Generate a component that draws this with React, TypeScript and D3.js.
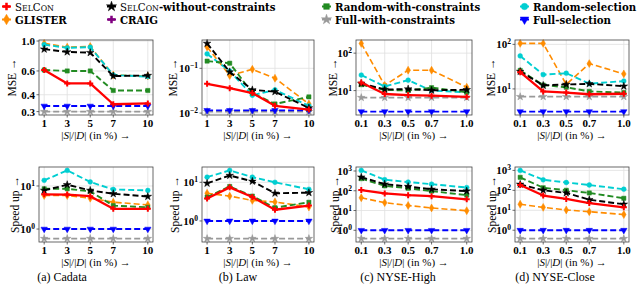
import React, { useEffect, useRef } from 'react';
import * as d3 from 'd3';

// x values
const xPercent = [1, 3, 5, 7, 10];
const xNyse = [0.1, 0.3, 0.5, 0.7, 1.0];

// series order: SelCon, SelCon-w/o, GLISTER, Random-with-constraints, Random-selection, Full-with-constraints, Full-selection
const cadataMse = [
  [0.61, 0.485, 0.485, 0.34, 0.345],
  [0.87, 0.83, 0.82, 0.55, 0.555],
  [0.96, 0.9, 0.91, 0.56, 0.55],
  [0.61, 0.6, 0.6, 0.43, 0.43],
  [0.94, 0.89, 0.9, 0.56, 0.545],
  [0.3, 0.3, 0.3, 0.3, 0.3],
  [0.33, 0.33, 0.33, 0.33, 0.33],
];
const lawMse = [
  [0.045, 0.036, 0.028, 0.0145, 0.012],
  [0.36, 0.083, 0.033, 0.03, 0.013],
  [0.3, 0.069, 0.095, 0.06, 0.016],
  [0.145, 0.13, 0.028, 0.016, 0.023],
  [0.21, 0.087, 0.025, 0.033, 0.0145],
  [0.0108, 0.0108, 0.0108, 0.0108, 0.0108],
  [0.0115, 0.0115, 0.0115, 0.0115, 0.0115],
];
const nyseHighMse = [
  [16.4, 8.1, 7.6, 7.3, 6.8],
  [15.5, 10.7, 11, 10.2, 10.5],
  [182, 13.8, 35, 35, 12.3],
  [14.4, 10.5, 10, 12, 9],
  [26, 12.9, 19, 10, 9],
  [6.5, 6.5, 6.5, 6.5, 6.5],
  [2.75, 2.75, 2.75, 2.75, 2.75],
];
const nyseCloseMse = [
  [23.7, 8.8, 8.3, 7.6, 7.8],
  [24.6, 12, 12.6, 13, 11.5],
  [105, 105, 12.6, 37, 21.7],
  [26, 12.2, 10.9, 8.8, 8.3],
  [55, 20.9, 22.5, 13.1, 15],
  [6.7, 6.7, 6.7, 6.7, 6.7],
  [3.1, 3.1, 3.1, 3.1, 3.1],
];
const cadataSpeed = [
  [6.4, 6.3, 5.8, 2.95, 2.95],
  [7.9, 10.7, 7.9, 6.6, 5.7],
  [6.0, 6.0, 5.2, 4.2, 3.65],
  [8.6, 8.6, 7.5, 3.5, 3.2],
  [13.5, 23, 12.4, 8.3, 7.9],
  [0.6, 0.6, 0.6, 0.6, 0.6],
  [1, 1, 1, 1, 1],
];
const lawSpeed = [
  [3.8, 7.4, 4.15, 1.95, 2.5],
  [9.4, 15, 10.6, 5.2, 5.4],
  [5.2, 4.4, 3.4, 3.1, 2.3],
  [4.15, 7.8, 4.4, 2.2, 3.05],
  [13.6, 20.3, 13.6, 10, 6.6],
  [0.35, 0.35, 0.35, 0.35, 0.35],
  [1, 1, 1, 1, 1],
];
const nyseHighSpeed = [
  [109, 73, 60, 53, 37],
  [485, 216, 164, 118, 96],
  [44, 25, 18, 13.5, 9.8],
  [410, 177, 133, 96, 60],
  [1070, 363, 275, 216, 145],
  [0.38, 0.38, 0.38, 0.38, 0.38],
  [1, 1, 1, 1, 1],
];
const nyseCloseSpeed = [
  [185, 55, 37, 23, 14],
  [200, 101, 74, 34, 20],
  [20, 14, 10.4, 8.5, 6.1],
  [450, 135, 101, 74, 40],
  [1000, 338, 247, 185, 114],
  [0.38, 0.38, 0.38, 0.38, 0.38],
  [1, 1, 1, 1, 1],
];

// tick labels
const cadataMseTicks = [0.3, 0.4, 0.6, 1.0];
const lawMseTicks = [0.01, 0.1];
const nyseMseTicks = [10, 100];
const speedTicks = [1, 10];
const nyseSpeedTicks = [1, 10, 100, 1000];
const captions = ['(a) Cadata', '(b) Law', '(c) NYSE-High', '(d) NYSE-Close'];

// styles per series (same order as data rows)
const seriesStyle = [
  { color: '#ff0000', dash: null, width: 2.3, symbol: d3.symbolCross, rot: 0 },
  { color: '#000000', dash: '6,3', width: 1.9, symbol: d3.symbolStar, rot: 0 },
  { color: '#ff8c00', dash: '6,3', width: 1.6, symbol: d3.symbolDiamond, rot: 0 },
  { color: '#228b22', dash: '6,3', width: 1.9, symbol: d3.symbolSquare, rot: 0 },
  { color: '#00ced1', dash: '6,3', width: 1.9, symbol: d3.symbolCircle, rot: 0 },
  { color: '#999999', dash: '6,3', width: 1.9, symbol: d3.symbolStar, rot: 0 },
  { color: '#0000ff', dash: '6,3', width: 1.9, symbol: d3.symbolTriangle, rot: 180 },
];
const drawOrder = [5, 6, 2, 4, 3, 1, 0];

const colX = [[39, 153], [202, 314], [356, 472], [515, 629]];
const rowY = [[40, 115], [167, 242]];
const captionX = [62, 238, 398, 555];

const panels = [
  { xs: xPercent, data: cadataMse, ticks: cadataMseTicks, col: 0, row: 0, label: 'MSE →', labelX: 12 },
  { xs: xPercent, data: lawMse, ticks: lawMseTicks, col: 1, row: 0, label: 'MSE →', labelX: 173 },
  { xs: xNyse, data: nyseHighMse, ticks: nyseMseTicks, col: 2, row: 0, label: 'MSE →', labelX: 333 },
  { xs: xNyse, data: nyseCloseMse, ticks: nyseMseTicks, col: 3, row: 0, label: 'MSE →', labelX: 491 },
  { xs: xPercent, data: cadataSpeed, ticks: speedTicks, col: 0, row: 1, label: 'Speed up →', labelX: 15 },
  { xs: xPercent, data: lawSpeed, ticks: speedTicks, col: 1, row: 1, label: 'Speed up →', labelX: 175 },
  { xs: xNyse, data: nyseHighSpeed, ticks: nyseSpeedTicks, col: 2, row: 1, label: 'Speed up →', labelX: 335 },
  { xs: xNyse, data: nyseCloseSpeed, ticks: nyseSpeedTicks, col: 3, row: 1, label: 'Speed up →', labelX: 492 },
];

const serif = '"Liberation Serif", "DejaVu Serif", serif';
const wideSerif = '"DejaVu Serif", serif';

function drawMarker(g, style, cx, cy, size) {
  g.append('path')
    .attr('d', d3.symbol().type(style.symbol).size(size)())
    .attr('transform', 'translate(' + cx + ',' + cy + ') rotate(' + style.rot + ')')
    .attr('fill', style.color)
    .attr('stroke', style.symbol === d3.symbolCross ? 'none' : style.color)
    .attr('stroke-width', 0.5);
}

function drawPanel(svg, p) {
  const [x0, x1] = colX[p.col];
  const [y0, y1] = rowY[p.row];
  const xmin = d3.min(p.xs), xmax = d3.max(p.xs);
  const xm = 0.05 * (xmax - xmin);
  const x = d3.scaleLinear().domain([xmin - xm, xmax + xm]).range([x0, x1]);
  const all = p.data.flat();
  const lo = Math.log10(d3.min(all)), hi = Math.log10(d3.max(all));
  const ym = 0.05 * (hi - lo);
  const y = d3.scaleLog().domain([10 ** (lo - ym), 10 ** (hi + ym)]).range([y1, y0]);

  const g = svg.append('g');

  // grid
  g.selectAll('.vgrid').data(p.xs).enter().append('line')
    .attr('x1', d => x(d)).attr('x2', d => x(d))
    .attr('y1', y0).attr('y2', y1)
    .attr('stroke', '#e0e0e0').attr('stroke-width', 0.8);
  g.selectAll('.hgrid').data(p.ticks).enter().append('line')
    .attr('x1', x0).attr('x2', x1)
    .attr('y1', d => y(d)).attr('y2', d => y(d))
    .attr('stroke', '#e0e0e0').attr('stroke-width', 0.8);

  // lines + markers
  const clipId = 'clip' + p.col + p.row;
  g.append('clipPath').attr('id', clipId).append('rect')
    .attr('x', x0 - 4).attr('y', y0 - 4).attr('width', x1 - x0 + 8).attr('height', y1 - y0 + 8);
  const plot = g.append('g').attr('clip-path', 'url(#' + clipId + ')');
  const line = d3.line<number>().x((d, i) => x(p.xs[i])).y(d => y(d));
  drawOrder.forEach(si => {
    const st = seriesStyle[si];
    const vals = p.data[si];
    plot.append('path')
      .attr('d', line(vals))
      .attr('fill', 'none')
      .attr('stroke', st.color)
      .attr('stroke-width', st.width)
      .attr('stroke-dasharray', st.dash)
      .attr('stroke-linejoin', 'round');
    vals.forEach((v, i) => drawMarker(plot, st, x(p.xs[i]), y(v), st.symbol === d3.symbolCross ? 20 : 18));
  });

  // frame
  g.append('rect')
    .attr('x', x0).attr('y', y0).attr('width', x1 - x0).attr('height', y1 - y0)
    .attr('fill', 'none').attr('stroke', '#444').attr('stroke-width', 0.8);

  // x ticks
  g.selectAll('.xtick').data(p.xs).enter().append('line')
    .attr('x1', d => x(d)).attr('x2', d => x(d))
    .attr('y1', y1).attr('y2', y1 + 2.5)
    .attr('stroke', '#444').attr('stroke-width', 0.8);
  g.selectAll('.xlab').data(p.xs).enter().append('text')
    .attr('x', d => x(d)).attr('y', y1 + 12)
    .attr('text-anchor', 'middle')
    .style('font-family', serif).style('font-weight', 'bold').style('font-size', '11px')
    .text(d => (p.xs === xNyse ? d3.format('.1f')(d) : String(d)));

  // y tick labels
  p.ticks.forEach(t => {
    const ty = y(t);
    g.append('line').attr('x1', x0 - 2.5).attr('x2', x0).attr('y1', ty).attr('y2', ty)
      .attr('stroke', '#444').attr('stroke-width', 0.8);
    const txt = g.append('text')
      .attr('x', x0 - 4).attr('y', ty + 4)
      .attr('text-anchor', 'end')
      .style('font-family', serif).style('font-weight', 'bold').style('font-size', '11px');
    if (p.ticks === cadataMseTicks) {
      txt.text(d3.format('.1f')(t));
    } else {
      const e = Math.round(Math.log10(t));
      txt.append('tspan').text('10');
      txt.append('tspan').attr('dy', -4).style('font-size', '7.5px').text(String(e).replace('-', '−'));
    }
  });

  // axis labels
  g.append('text')
    .attr('transform', 'translate(' + p.labelX + ',' + (y0 + y1) / 2 + ') rotate(-90)')
    .attr('text-anchor', 'middle').attr('dy', '0.35em')
    .style('font-family', serif).style('font-size', '11.5px')
    .text(p.label);
  const xl = g.append('text')
    .attr('x', (x0 + x1) / 2).attr('y', y1 + 24)
    .attr('text-anchor', 'middle')
    .style('font-family', serif).style('font-size', '11px');
  xl.append('tspan').text('|');
  xl.append('tspan').style('font-style', 'italic').text('S');
  xl.append('tspan').text('|/|');
  xl.append('tspan').style('font-style', 'italic').text('D');
  xl.append('tspan').text('| (in %) →');

  if (p.row === 1) {
    g.append('text')
      .attr('x', captionX[p.col]).attr('y', 281)
      .attr('text-anchor', 'middle')
      .style('font-family', serif).style('font-size', '12px')
      .text(captions[p.col]);
  }
}

const legendItems = [
  { name: 'SelCon', suffix: '', style: 0, x: 2, row: 0 },
  { name: 'SelCon', suffix: '-without-constraints', style: 1, x: 107, row: 0 },
  { name: 'Random-with-constraints', suffix: '', style: 3, x: 322, row: 0 },
  { name: 'Random-selection', suffix: '', style: 4, x: 520, row: 0 },
  { name: 'GLISTER', suffix: '', style: 2, x: 2, row: 1 },
  { name: 'CRAIG', suffix: '', style: -1, x: 107, row: 1 },
  { name: 'Full-with-constraints', suffix: '', style: 5, x: 322, row: 1 },
  { name: 'Full-selection', suffix: '', style: 6, x: 520, row: 1 },
];
const craigStyle = { color: '#800080', dash: null, width: 1.8, symbol: d3.symbolCross, rot: 0 };

function drawLegend(svg) {
  const lg = svg.append('g');
  legendItems.forEach(item => {
    const st = item.style < 0 ? craigStyle : seriesStyle[item.style];
    const cy = item.row === 0 ? 6.5 : 19.5;
    lg.append('line')
      .attr('x1', item.x).attr('x2', item.x + 9).attr('y1', cy).attr('y2', cy)
      .attr('stroke', st.color).attr('stroke-width', 2);
    drawMarker(lg, st, item.x + 4.5, cy, 32);
    const t = lg.append('text')
      .attr('x', item.x + 13).attr('y', cy + 4)
      .style('font-family', wideSerif).style('font-size', '10.2px');
    if (item.name === 'SelCon') {
      t.append('tspan').text('S');
      t.append('tspan').style('font-size', '7.8px').text('EL');
      t.append('tspan').text('C');
      t.append('tspan').style('font-size', '7.8px').text('ON');
      if (item.suffix) t.append('tspan').style('font-weight', 'bold').text(item.suffix);
    } else {
      t.style('font-weight', 'bold').text(item.name);
    }
  });
}

export default function App() {
  const rootNode = useRef<SVGSVGElement>(null);

  useEffect(() => {
    const svg = d3.select(rootNode.current);
    svg.selectAll('*').remove();
    drawLegend(svg);
    panels.forEach(p => drawPanel(svg, p));
  }, []);

  return (
    <svg
      ref={rootNode}
      width={640}
      height={301}
      style={{ position: 'absolute', left: 0, top: 0, background: '#fff' }}
    />
  );
}
